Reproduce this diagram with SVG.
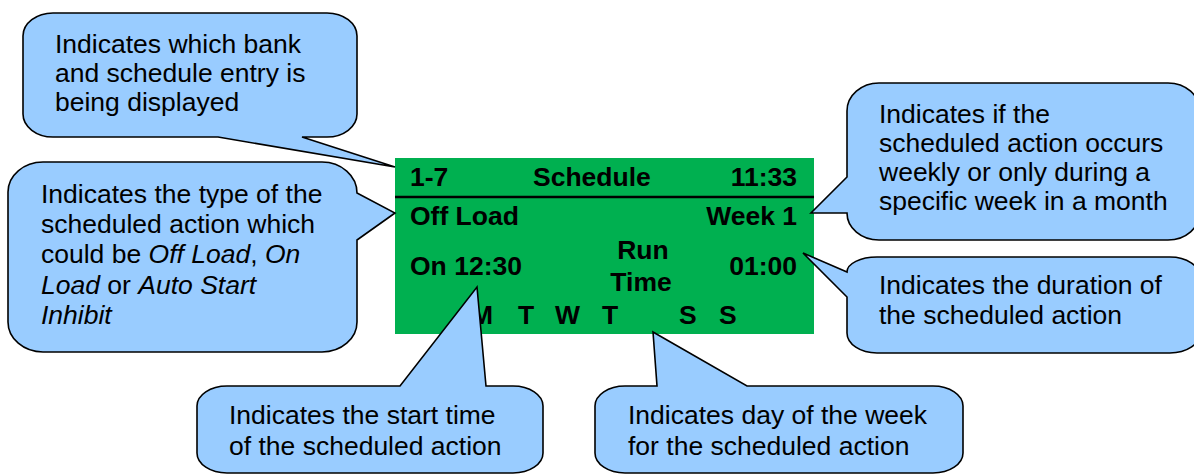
<svg xmlns="http://www.w3.org/2000/svg" width="1194" height="475" viewBox="0 0 1194 475">
<style>
.bub{fill:#99CCFF;stroke:#000;stroke-width:1.6;stroke-linejoin:miter}
.t{font-family:"Liberation Sans",Arial,sans-serif;font-size:26.5px;fill:#000}
.b{font-family:"Liberation Sans",Arial,sans-serif;font-size:26.5px;font-weight:bold;fill:#000}
.i{font-style:italic}
</style>
<rect width="1194" height="475" fill="#fff"/>
<g id="display">
<rect x="395" y="158" width="419" height="176" fill="#00B050"/>
<line x1="395" y1="197" x2="814" y2="197" stroke="#000" stroke-width="2.5"/>
<text class="b" x="410" y="186">1-7</text>
<text class="b" x="533" y="186">Schedule</text>
<text class="b" x="797" y="186" text-anchor="end">11:33</text>
<text class="b" x="410" y="225">Off Load</text>
<text class="b" x="797" y="225" text-anchor="end">Week 1</text>
<text class="b" x="410" y="275">On 12:30</text>
<text class="b" x="643" y="259" text-anchor="middle">Run</text>
<text class="b" x="641" y="291" text-anchor="middle">Time</text>
<text class="b" x="797" y="275" text-anchor="end">01:00</text>
<text class="b" x="471" y="324">M</text>
<text class="b" x="518" y="324">T</text>
<text class="b" x="555" y="324">W</text>
<text class="b" x="602" y="324">T</text>
<text class="b" x="679" y="324">S</text>
<text class="b" x="719" y="324">S</text>
</g>
<g id="connectors"></g>
<g id="callout-bank">
<path class="bub" d="M 53,13 H 327 A 30 23 0 0 1 357,36 V 114 A 30 23 0 0 1 327,137 H 302 L 395,167 L 218,137 H 53 A 30 23 0 0 1 23,114 V 36 A 30 23 0 0 1 53,13 Z"/>
<text class="t" x="55" y="53">Indicates which bank</text>
<text class="t" x="55" y="82">and schedule entry is</text>
<text class="t" x="55" y="111">being displayed</text>
</g>
<g id="callout-type">
<path class="bub" d="M 43,162 H 322 A 35 31 0 0 1 357,193 L 395,213 L 357,240 V 322 A 35 30 0 0 1 322,352 H 43 A 35 30 0 0 1 8,322 V 192 A 35 30 0 0 1 43,162 Z"/>
<text class="t" x="41" y="203">Indicates the type of the</text>
<text class="t" x="41" y="233">scheduled action which</text>
<text class="t" x="41" y="263">could be <tspan class="i">Off Load</tspan>, <tspan class="i">On</tspan></text>
<text class="t" x="41" y="294"><tspan class="i">Load</tspan> or <tspan class="i">Auto Start</tspan></text>
<text class="t" x="41" y="324"><tspan class="i">Inhibit</tspan></text>
</g>
<g id="callout-week">
<path class="bub" d="M 879,83 H 1168 A 32 28 0 0 1 1200,111 V 212 A 32 28 0 0 1 1168,240 H 879 A 32 27 0 0 1 847,213 L 811,213 L 847,177 V 111 A 32 28 0 0 1 879,83 Z"/>
<text class="t" x="879" y="123">Indicates if the</text>
<text class="t" x="879" y="152">scheduled action occurs</text>
<text class="t" x="879" y="181">weekly or only during a</text>
<text class="t" x="879" y="210">specific week in a month</text>
</g>
<g id="callout-duration">
<path class="bub" d="M 877,257 H 1170 A 30 20 0 0 1 1200,277 V 333 A 30 20 0 0 1 1170,353 H 877 A 30 20 0 0 1 847,333 V 297 L 803,253 L 847,272 A 30 15 0 0 1 877,257 Z"/>
<text class="t" x="879" y="294">Indicates the duration of</text>
<text class="t" x="879" y="324">the scheduled action</text>
</g>
<g id="callout-start">
<path class="bub" d="M 227,386 H 400 L 477,287 L 486,386 H 513 A 30 20 0 0 1 543,406 V 453 A 30 20 0 0 1 513,473 H 227 A 30 20 0 0 1 197,453 V 406 A 30 20 0 0 1 227,386 Z"/>
<text class="t" x="229" y="424">Indicates the start time</text>
<text class="t" x="229" y="455">of the scheduled action</text>
</g>
<g id="callout-day">
<path class="bub" d="M 625,386 H 657 L 653,332 L 747,386 H 933 A 30 20 0 0 1 963,406 V 453 A 30 20 0 0 1 933,473 H 625 A 30 20 0 0 1 595,453 V 406 A 30 20 0 0 1 625,386 Z"/>
<text class="t" x="628" y="424">Indicates day of the week</text>
<text class="t" x="628" y="455">for the scheduled action</text>
</g>
</svg>
